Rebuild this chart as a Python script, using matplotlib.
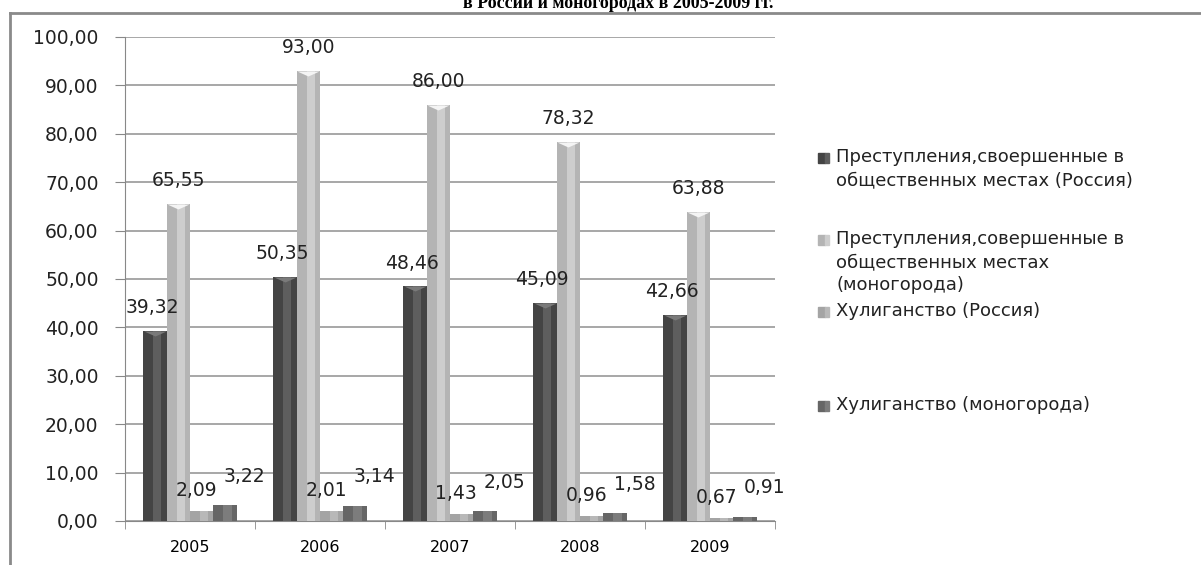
import numpy as np
import matplotlib.pyplot as plt
from matplotlib.patches import Rectangle
from matplotlib.lines import Line2D
from matplotlib.ticker import FuncFormatter

plt.rcParams['font.family'] = ['DejaVu Sans']

# данные
years = ['2005', '2006', '2007', '2008', '2009']
crimes_russia = [39.32, 50.35, 48.46, 45.09, 42.66]
crimes_mono = [65.55, 93.00, 86.00, 78.32, 63.88]
hooligan_russia = [2.09, 2.01, 1.43, 0.96, 0.67]
hooligan_mono = [3.22, 3.14, 2.05, 1.58, 0.91]

series_names = [
    'Преступления,своершенные в\nобщественных местах (Россия)',
    'Преступления,совершенные в\nобщественных местах\n(моногорода)',
    'Хулиганство (Россия)',
    'Хулиганство (моногорода)',
]
series = [crimes_russia, crimes_mono, hooligan_russia, hooligan_mono]
colors = ['#444444', '#b4b4b4', '#a4a4a4', '#666666']
highlights = ['#5e5e5e', '#cdcdcd', '#b8b8b8', '#7c7c7c']
notch = ['#7a7a7a', '#f4f4f4', None, None]
label_off = [(-2, 10), (0, 10), (-4, 8), (14, 14)]


def fmt(v):
    return f'{v:.2f}'.replace('.', ',')


fig = plt.figure(figsize=(12.01, 5.65), dpi=100)
ax = fig.add_axes([125 / 1201, 1 - 521 / 565, 650 / 1201, (521 - 37) / 565])

x = np.arange(len(years))
w = 0.18
tri = [(-1, 0), (1, 0), (0, -0.45), (-1, 0)]
for k, vals in enumerate(series):
    pos = x + (k - 1.5) * w
    ax.bar(pos, vals, width=w, color=colors[k], zorder=3)
    ax.bar(pos + w * 0.1, vals, width=w * 0.35, color=highlights[k], zorder=3)
    if notch[k]:
        ax.plot(pos, vals, linestyle='none', marker=tri, markersize=16,
                color=notch[k], markeredgewidth=0, zorder=4)
    for p, v in zip(pos, vals):
        ax.annotate(fmt(v), (p, v), xytext=label_off[k], textcoords='offset points',
                    ha='center', va='bottom', fontsize=13.5, color='#222222', zorder=5)

ax.set_xlim(-0.5, len(years) - 0.5)
ax.set_ylim(0, 100)
ax.set_yticks(np.arange(0, 101, 10))
ax.yaxis.set_major_formatter(FuncFormatter(lambda v, _: fmt(v)))
ax.set_xticks(x)
ax.set_xticklabels(years, fontsize=11.5)
ax.set_xticks(np.arange(-0.5, len(years), 1), minor=True)
ax.tick_params(axis='x', which='major', length=0, pad=14)
ax.tick_params(axis='x', which='minor', length=6, color='#888888')
ax.tick_params(axis='y', length=7, color='#888888', labelsize=13.5, pad=12, labelcolor='#222222')
ax.grid(axis='y', color='#8f8f8f', linewidth=1.1, zorder=0)
for s in ['top', 'right']:
    ax.spines[s].set_visible(False)
ax.spines['left'].set_color('#888888')
ax.spines['bottom'].set_color('#888888')

# легенда
leg_y = [158, 240, 312, 406]
for k, name in enumerate(series_names):
    yy = 1 - leg_y[k] / 565
    fig.patches.append(Rectangle((818 / 1201, yy - 5 / 565), 7 / 1201, 10 / 565,
                                 transform=fig.transFigure, color=colors[k]))
    fig.patches.append(Rectangle((825 / 1201, yy - 5 / 565), 4 / 1201, 10 / 565,
                                 transform=fig.transFigure, color=highlights[k]))
    fig.text(836 / 1201, yy + 10 / 565, name, fontsize=13, va='top', ha='left',
             color='#222222', linespacing=1.35)

# рамка и заголовок (в оригинале заголовок обрезан сверху)
fig.add_artist(Line2D([10 / 1201, 10 / 1201], [0, 1 - 13 / 565],
                      transform=fig.transFigure, color='#8a8a8a', lw=2))
fig.add_artist(Line2D([10 / 1201, 1], [1 - 13 / 565, 1 - 13 / 565],
                      transform=fig.transFigure, color='#8a8a8a', lw=2))
fig.text(0.515, 1 - 4 / 565, 'в России и моногородах в 2005-2009 гг.', ha='center', va='center',
         fontsize=13, fontweight='bold', family='Liberation Serif')

fig.savefig('out.png', dpi=100)
